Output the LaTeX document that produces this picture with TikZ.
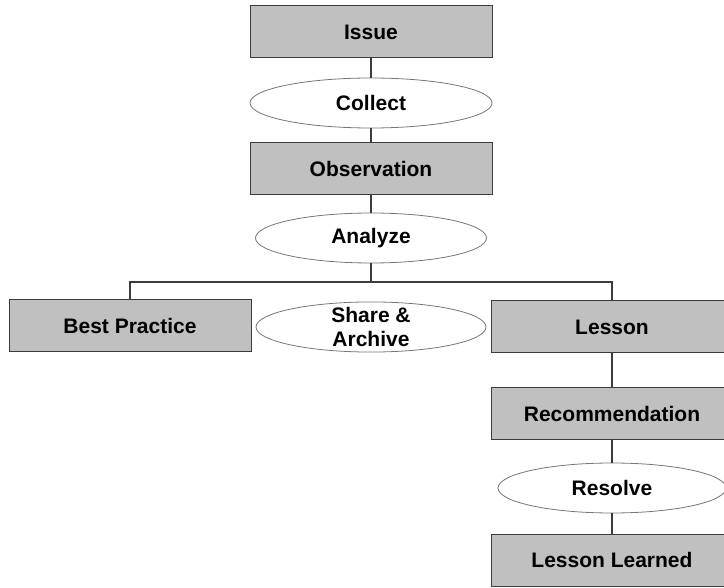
\documentclass[tikz,border=0pt]{standalone}
\usepackage{fontspec}
\setmainfont{Liberation Sans}
\usetikzlibrary{shapes.geometric}
\definecolor{boxfill}{RGB}{192,192,192}
\definecolor{edge}{RGB}{60,60,60}
\tikzset{
  box/.style={draw=edge, line width=1pt, fill=boxfill, rectangle, minimum width=242pt, minimum height=52pt, inner sep=0pt, font=\fontsize{21}{24}\selectfont\bfseries},
  oval/.style={draw=edge!70, line width=0.8pt, fill=white, ellipse, minimum width=#1, minimum height=50pt, inner sep=-2pt, align=center, font=\fontsize{21}{24}\selectfont\bfseries},
  link/.style={draw=edge, line width=1.3pt}
}
\begin{document}
\begin{tikzpicture}[x=1pt,y=-1pt]
\useasboundingbox (0,0) rectangle (724,588);
\clip (0,0) rectangle (724,588);
\node[box] (issue) at (371,32) {Issue};
\node[oval=242pt] (collect) at (371,103) {Collect};
\node[box] (obs) at (371,169) {Observation};
\node[oval=231pt] (analyze) at (371,238) {Analyze};
\coordinate (split) at (371,282);
\node[box] (best) at (130,326) {Best Practice};
\node[oval=230pt] (share) at (371,327) {Share \&\\Archive};
\node[box] (lesson) at (612,327) {Lesson};
\node[box] (rec) at (612,414) {Recommendation};
\node[oval=228pt] (resolve) at (612,488) {Resolve};
\node[box] (learned) at (612,560) {Lesson Learned};
\coordinate (bl) at (best.north |- split);
\coordinate (ll) at (lesson.north |- split);
\draw[link] (issue) -- (collect);
\draw[link] (collect) -- (obs);
\draw[link] (obs) -- (analyze);
\draw[link] (analyze) -- (split);
\draw[link] (best.north) -- (bl) -- (ll) -- (lesson.north);
\draw[link] (lesson) -- (rec);
\draw[link] (rec) -- (resolve);
\draw[link] (resolve) -- (learned);
\end{tikzpicture}
\end{document}
